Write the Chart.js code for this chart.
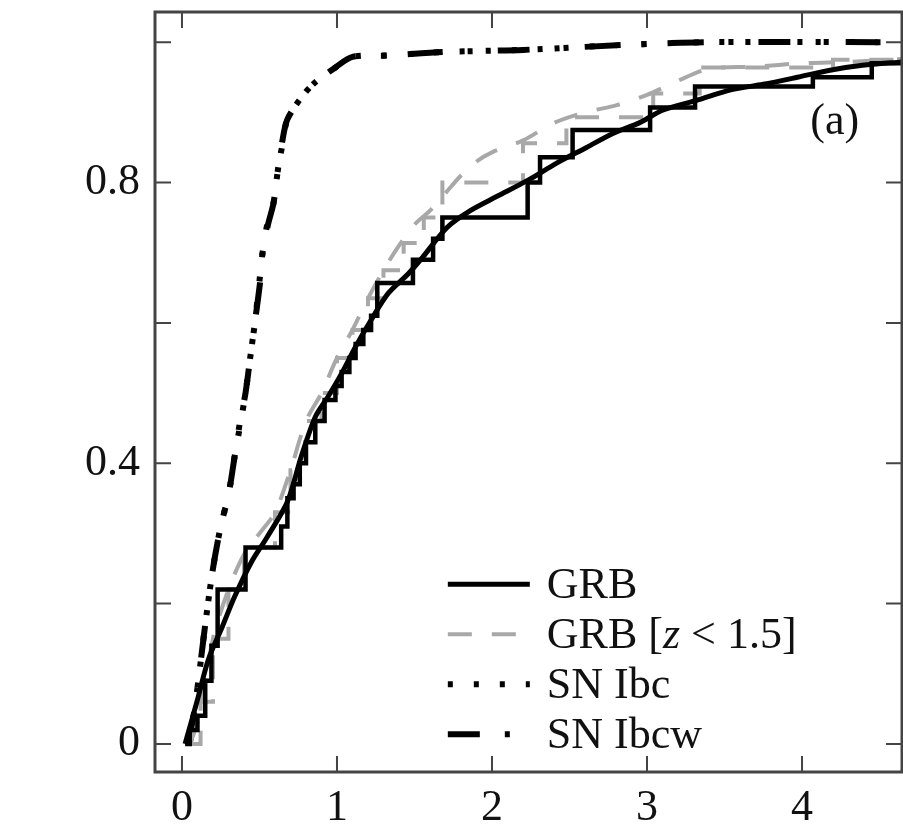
<!DOCTYPE html>
<html>
<head>
<meta charset="utf-8">
<script src="https://cdn.jsdelivr.net/npm/chart.js@4/dist/chart.umd.min.js"></script>
<style>
  html, body { margin: 0; padding: 0; background: #fff; }
  #wrap { width: 903px; height: 831px; }
</style>
</head>
<body>
<div id="wrap"><canvas id="cdf" width="903" height="831"></canvas></div>
<script>
// axis ticks
const xTicks = [0, 1, 2, 3, 4];
const yTicks = [0, 0.2, 0.4, 0.6, 0.8, 1.0];
const yLabels = [0, 0.4, 0.8];

// GRB: empirical steps + smooth curve
const grbStepX = [0.02, 0.05, 0.10, 0.15, 0.19, 0.23, 0.41, 0.64, 0.68, 0.72, 0.76, 0.80, 0.86, 0.92, 0.99, 1.03, 1.08, 1.12, 1.17, 1.22, 1.26, 1.49, 1.62, 1.68, 2.23, 2.31, 2.52, 3.02, 3.31, 4.07, 4.45, 4.65];
const grbStepY = [0, 0.02, 0.04, 0.09, 0.14, 0.22, 0.28, 0.31, 0.35, 0.37, 0.40, 0.43, 0.46, 0.49, 0.51, 0.53, 0.55, 0.57, 0.59, 0.61, 0.657, 0.69, 0.72, 0.75, 0.80, 0.836, 0.875, 0.907, 0.937, 0.95, 0.97, 0.97];
const grbFitX = [0.02, 0.1, 0.17, 0.26, 0.34, 0.45, 0.55, 0.68, 0.77, 0.86, 0.94, 1.03, 1.12, 1.22, 1.33, 1.46, 1.54, 1.71, 1.86, 2.03, 2.23, 2.42, 2.61, 2.78, 2.95, 3.10, 3.32, 3.54, 3.75, 3.97, 4.18, 4.39, 4.65];
const grbFitY = [0, 0.063, 0.12, 0.167, 0.21, 0.26, 0.295, 0.345, 0.41, 0.466, 0.494, 0.528, 0.566, 0.604, 0.642, 0.67, 0.69, 0.736, 0.76, 0.78, 0.803, 0.828, 0.85, 0.87, 0.885, 0.903, 0.917, 0.932, 0.94, 0.95, 0.96, 0.967, 0.972];

// GRB [z < 1.5]
const lowzStepX = [0.05, 0.12, 0.2, 0.3, 0.4, 0.6, 0.7, 0.8, 0.9, 1.0, 1.1, 1.2, 1.3, 1.43, 1.56, 1.68, 2.2, 2.48, 3.04, 3.34, 4.2, 4.65];
const lowzStepY = [0, 0.06, 0.15, 0.22, 0.28, 0.33, 0.39, 0.46, 0.5, 0.55, 0.59, 0.635, 0.675, 0.714, 0.75, 0.80, 0.856, 0.893, 0.927, 0.964, 0.975, 0.975];
const lowzFitX = [0.05, 0.1, 0.2, 0.3, 0.4, 0.5, 0.6, 0.7, 0.8, 0.9, 1.0, 1.1, 1.2, 1.3, 1.4, 1.5, 1.6, 1.7, 1.8, 1.9, 2.0, 2.2, 2.4, 2.6, 2.8, 3.0, 3.2, 3.4, 3.7, 4.0, 4.3, 4.65];
const lowzFitY = [0, 0.03, 0.15, 0.22, 0.27, 0.3, 0.33, 0.39, 0.46, 0.5, 0.55, 0.59, 0.635, 0.675, 0.71, 0.74, 0.76, 0.785, 0.81, 0.83, 0.843, 0.86, 0.885, 0.9, 0.91, 0.925, 0.945, 0.962, 0.965, 0.97, 0.972, 0.976];

// SN Ibc and SN Ibcw (lie on top of each other)
const ibcX = [0.05, 0.1, 0.15, 0.2, 0.25, 0.3, 0.34, 0.38, 0.41, 0.44, 0.47, 0.5, 0.52, 0.55, 0.59, 0.62, 0.65, 0.68, 0.78, 0.86, 0.99, 1.1, 1.33, 1.68, 2.2, 2.85, 3.4, 4.65];
const ibcY = [0, 0.08, 0.17, 0.25, 0.31, 0.355, 0.41, 0.46, 0.5, 0.55, 0.6, 0.66, 0.7, 0.74, 0.77, 0.82, 0.856, 0.89, 0.924, 0.943, 0.964, 0.979, 0.981, 0.986, 0.989, 0.996, 1.0, 1.0];
const ibcwX = [0.05, 0.1, 0.15, 0.2, 0.25, 0.3, 0.34, 0.375, 0.41, 0.44, 0.47, 0.505, 0.52, 0.555, 0.59, 0.62, 0.645, 0.68, 0.78, 0.86, 0.99, 1.1, 1.33, 1.68, 2.2, 2.85, 3.4, 4.65];
const ibcwY = [0, 0.08, 0.17, 0.25, 0.31, 0.355, 0.41, 0.46, 0.5, 0.55, 0.6, 0.66, 0.7, 0.74, 0.77, 0.82, 0.856, 0.89, 0.924, 0.943, 0.964, 0.979, 0.981, 0.986, 0.989, 0.996, 1.0, 1.0];

const pts = (xs, ys) => xs.map((x, i) => ({ x, y: ys[i] }));
const serif = "'Liberation Serif', 'DejaVu Serif', serif";

const black = { borderColor: '#000', borderWidth: 5, pointRadius: 0, showLine: true, fill: false };
const gray = { borderColor: '#a8a8a8', borderWidth: 4, pointRadius: 0, showLine: true, fill: false, borderDash: [24, 20] };

const datasets = [
  { ...black, label: 'GRB', data: pts(grbFitX, grbFitY), tension: 0.3 },
  { ...black, label: 'GRB', data: pts(grbStepX, grbStepY), stepped: true, borderWidth: 4.5 },
  { ...gray, label: 'GRB [z < 1.5]', data: pts(lowzFitX, lowzFitY), tension: 0.3 },
  { ...gray, label: 'GRB [z < 1.5]', data: pts(lowzStepX, lowzStepY), stepped: true },
  { label: 'SN Ibc', data: pts(ibcX, ibcY), borderColor: '#000', borderWidth: 6, pointRadius: 0, showLine: true, borderDash: [5, 21], tension: 0.3 },
  { label: 'SN Ibcw', data: pts(ibcwX, ibcwY), borderColor: '#000', borderWidth: 6, pointRadius: 0, showLine: true, borderDash: [32, 25, 5, 25], tension: 0.3 }
];

// legend rows: which dataset gives the line style
const legendRows = [0, 2, 4, 5];

const frame = {
  id: 'frame',
  afterDraw(chart) {
    const { ctx, chartArea: a, scales: { x, y } } = chart;
    ctx.save();
    ctx.strokeStyle = '#444';
    ctx.lineWidth = 2;
    ctx.beginPath();
    xTicks.forEach(v => {
      const p = x.getPixelForValue(v);
      ctx.moveTo(p, a.bottom); ctx.lineTo(p, a.bottom - 16);
      ctx.moveTo(p, a.top); ctx.lineTo(p, a.top + 16);
    });
    yTicks.forEach(v => {
      const p = y.getPixelForValue(v);
      ctx.moveTo(a.left, p); ctx.lineTo(a.left + 16, p);
      ctx.moveTo(a.right, p); ctx.lineTo(a.right - 16, p);
    });
    ctx.stroke();
    ctx.lineWidth = 3;
    ctx.strokeRect(a.left, a.top, a.right - a.left, a.bottom - a.top);

    // panel tag
    ctx.fillStyle = '#111';
    ctx.font = '44px ' + serif;
    ctx.textAlign = 'center';
    ctx.textBaseline = 'middle';
    ctx.fillText('(a)', a.left + 0.91 * (a.right - a.left), a.top + 0.145 * (a.bottom - a.top));

    // legend
    const lx = a.left + 0.392 * (a.right - a.left);
    const lw = 82;
    ctx.textAlign = 'left';
    legendRows.forEach((di, i) => {
      const ds = chart.data.datasets[di];
      const ly = a.top + 0.753 * (a.bottom - a.top) + i * 50;
      ctx.beginPath();
      ctx.strokeStyle = ds.borderColor;
      ctx.lineWidth = ds.borderWidth;
      ctx.setLineDash(ds.borderDash || []);
      ctx.moveTo(lx, ly); ctx.lineTo(lx + lw, ly);
      ctx.stroke();
      ctx.setLineDash([]);
      ctx.fillStyle = '#111';
      let tx = lx + lw + 17;
      if (ds.label.includes('z')) {
        const parts = [['GRB [', ''], ['z', 'italic '], [' < 1.5]', '']];
        parts.forEach(([t, st]) => {
          ctx.font = st + '44px ' + serif;
          ctx.fillText(t, tx, ly + 2);
          tx += ctx.measureText(t).width;
        });
        ctx.font = '44px ' + serif;
      } else {
        ctx.fillText(ds.label, tx, ly + 2);
      }
    });
    ctx.restore();
  }
};

new Chart(document.getElementById('cdf').getContext('2d'), {
  type: 'scatter',
  data: { datasets },
  options: {
    responsive: false,
    animation: false,
    layout: { padding: { top: 12, right: 1, left: 0, bottom: 0 } },
    plugins: { legend: { display: false }, tooltip: { enabled: false } },
    scales: {
      x: {
        type: 'linear', min: -0.174, max: 4.645,
        afterBuildTicks: s => { s.ticks = xTicks.map(v => ({ value: v })); },
        afterFit: s => { s.height = 59; s.paddingLeft = 0; s.paddingRight = 0; },
        grid: { display: false, drawTicks: false },
        border: { display: false },
        ticks: { color: '#111', font: { family: serif, size: 44 }, padding: 10, maxRotation: 0, callback: v => String(v) }
      },
      y: {
        type: 'linear', min: -0.04, max: 1.043,
        afterBuildTicks: s => { s.ticks = yTicks.map(v => ({ value: v })); },
        afterFit: s => { s.width = 155; s.paddingTop = 0; s.paddingBottom = 0; },
        grid: { display: false, drawTicks: false },
        border: { display: false },
        ticks: { color: '#111', font: { family: serif, size: 44 }, padding: 15,
          callback: v => yLabels.some(t => Math.abs(t - v) < 1e-6) ? String(+v.toFixed(1)) : '' }
      }
    }
  },
  plugins: [frame]
});
</script>
</body>
</html>
